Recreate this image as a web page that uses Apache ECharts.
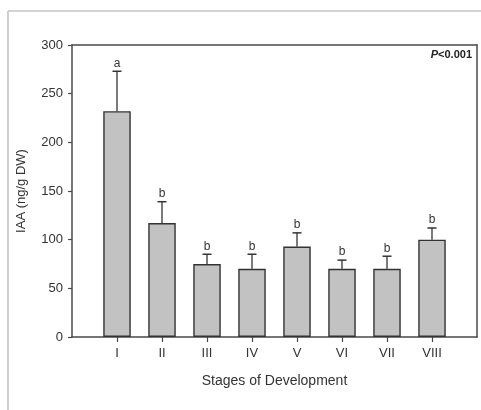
<!DOCTYPE html>
<html>
<head>
<meta charset="utf-8">
<script src="https://cdn.jsdelivr.net/npm/echarts@6/dist/echarts.min.js"></script>
<style>
  html, body { margin: 0; padding: 0; background: #fff; }
  #chart { width: 481px; height: 410px; }
</style>
</head>
<body>
<div id="chart"></div>
<script>
// IAA content per developmental stage (mean, upper error, significance group)
const stages = ['I', 'II', 'III', 'IV', 'V', 'VI', 'VII', 'VIII'];
const iaaMean = [232, 117, 75, 70, 93, 70, 70, 100];
const iaaError = [41, 22, 10, 15, 14, 9, 13, 12];
const groupLetters = ['a', 'b', 'b', 'b', 'b', 'b', 'b', 'b'];
const yTicks = [0, 50, 100, 150, 200, 250, 300];

// padded category slots so the bars sit one slot in from each side
const slots = [''].concat(stages, ['']);
const barData = ['-'].concat(iaaMean, ['-']);
const errData = stages.map((s, i) => [i + 1, iaaMean[i], iaaError[i]]);

const font = '"Liberation Sans", Arial, sans-serif';
const axisColor = '#4a4a4a';
const textColor = '#333';

const chart = echarts.init(document.getElementById('chart'));
chart.setOption({
  animation: false,
  backgroundColor: '#fff',
  grid: { left: 72, right: 4, top: 45, bottom: 73 },
  graphic: [
    { type: 'line', shape: { x1: 8, y1: 11, x2: 8, y2: 410 }, style: { stroke: '#c4c4c4', lineWidth: 1.6 } },
    { type: 'line', shape: { x1: 8, y1: 11, x2: 481, y2: 11 }, style: { stroke: '#c4c4c4', lineWidth: 1.6 } },
    {
      type: 'text', right: 9, top: 49,
      style: {
        rich: {
          p: { fontStyle: 'italic', fontWeight: 'bold', fontSize: 11, fontFamily: font, fill: '#222' },
          r: { fontWeight: 'bold', fontSize: 11, fontFamily: font, fill: '#222' }
        },
        text: '{p|P}{r|<0.001}'
      }
    }
  ],
  xAxis: [
    {
      type: 'category',
      data: slots,
      boundaryGap: false,
      name: 'Stages of Development',
      nameLocation: 'middle',
      nameGap: 37,
      nameTextStyle: { fontFamily: font, fontSize: 14, color: textColor },
      axisLine: { lineStyle: { color: axisColor, width: 1.5 } },
      axisTick: {
        length: 5,
        interval: (idx) => idx > 0 && idx < slots.length - 1,
        lineStyle: { color: axisColor, width: 1.2 }
      },
      axisLabel: {
        interval: 0, margin: 10,
        fontFamily: font, fontSize: 13, color: textColor
      },
      splitLine: { show: false }
    },
    {
      type: 'category',
      data: slots,
      boundaryGap: false,
      position: 'top',
      axisLine: { onZero: false, lineStyle: { color: axisColor, width: 1.5 } },
      axisTick: { show: false },
      axisLabel: { show: false },
      splitLine: { show: false }
    }
  ],
  yAxis: [
    {
      type: 'value',
      min: 0, max: 300, interval: 50,
      name: 'IAA (ng/g DW)',
      nameLocation: 'middle',
      nameGap: 44,
      nameTextStyle: { fontFamily: font, fontSize: 13, color: textColor },
      axisLine: { show: true, lineStyle: { color: axisColor, width: 1.5 } },
      axisTick: { show: true, length: 4, lineStyle: { color: axisColor, width: 1.2 } },
      axisLabel: {
        margin: 9, fontFamily: font, fontSize: 13, color: textColor,
        formatter: (v) => (yTicks.indexOf(v) >= 0 ? String(v) : '')
      },
      splitLine: { show: false }
    },
    {
      type: 'value',
      min: 0, max: 300, interval: 50,
      position: 'right',
      axisLine: { show: true, onZero: false, lineStyle: { color: axisColor, width: 1.5 } },
      axisTick: { show: false },
      axisLabel: { show: false },
      splitLine: { show: false }
    }
  ],
  series: [
    {
      type: 'bar',
      data: barData,
      barWidth: 27.5,
      itemStyle: { color: '#c2c2c2', borderColor: '#333', borderWidth: 1.4 },
      z: 2
    },
    {
      type: 'custom',
      data: errData,
      z: 3,
      renderItem: function (params, api) {
        const x = api.value(0);
        const mean = api.value(1);
        const err = api.value(2);
        const base = api.coord([x, mean]);
        const top = api.coord([x, mean + err]);
        const half = 4.5;
        return {
          type: 'group',
          children: [
            { type: 'line', shape: { x1: base[0], y1: base[1], x2: top[0], y2: top[1] }, style: { stroke: '#333', lineWidth: 1.3 } },
            { type: 'line', shape: { x1: top[0] - half, y1: top[1], x2: top[0] + half, y2: top[1] }, style: { stroke: '#333', lineWidth: 1.5 } },
            {
              type: 'text',
              x: top[0], y: top[1] - 2,
              style: {
                text: groupLetters[params.dataIndex],
                align: 'center', verticalAlign: 'bottom',
                fontFamily: font, fontSize: 12, fill: textColor
              }
            }
          ]
        };
      }
    }
  ]
});
</script>
</body>
</html>
